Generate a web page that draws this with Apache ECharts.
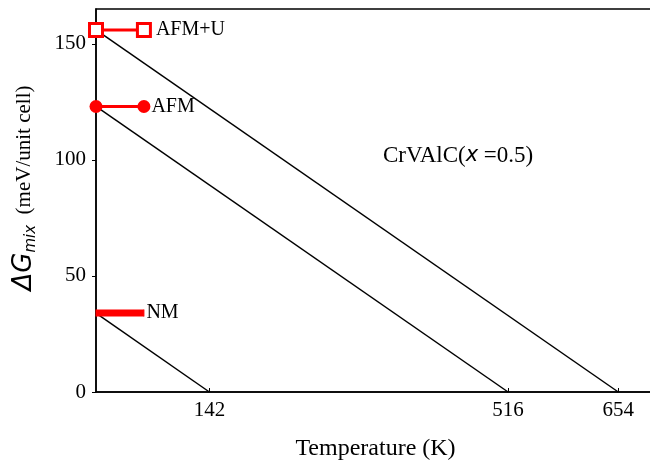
<!DOCTYPE html>
<html>
<head>
<meta charset="utf-8">
<script src="https://cdn.jsdelivr.net/npm/echarts@6/dist/echarts.min.js"></script>
<style>html,body{margin:0;padding:0;background:#fff;}#c{width:650px;height:464px;}</style>
</head>
<body>
<div id="c"></div>
<script>
// Data
var xTicks = [142, 516, 654];
var yTicks = [0, 50, 100, 150];
var afmU_T = [0, 654];       // black line AFM+U: start -> zero crossing
var afmU_G = [156, 0];
var afm_T = [0, 516];
var afm_G = [123, 0];
var nm_T = [0, 142];
var nm_G = [34, 0];
var markerT = [0, 60];       // red reference segments
var afmU_level = 156;
var afm_level = 123;
var nm_level = 34;
var seriesNames = ['AFM+U', 'AFM', 'NM'];

var serif = '"Liberation Serif", "DejaVu Serif", serif';
var sans = '"DejaVu Sans", "Liberation Sans", sans-serif';

function pts(xs, ys) { return xs.map(function (x, i) { return [x, ys[i]]; }); }
function lvl(v, name, dist) {
  return markerT.map(function (t, i) {
    var d = { value: [t, v] };
    if (i === markerT.length - 1) {
      d.label = { show: true, position: 'right', formatter: name, distance: dist,
        fontFamily: serif, fontSize: 20, color: '#000' };
    }
    return d;
  });
}

var chart = echarts.init(document.getElementById('c'));
chart.setOption({
  animation: false,
  grid: { left: 96, top: 9, width: 575, height: 383, show: true, borderColor: '#000', borderWidth: 1.5,
    backgroundColor: 'transparent', outerBoundsMode: 'none', containLabel: false },
  xAxis: {
    type: 'value', min: 0, max: 720,
    name: 'Temperature (K)', nameLocation: 'middle', nameGap: 45,
    nameTextStyle: { fontFamily: serif, fontSize: 24, color: '#000', padding: [0, 16, 0, 0] },
    axisLine: { lineStyle: { color: '#000', width: 1.5 } },
    axisTick: { show: true, inside: true, length: 4, customValues: xTicks, lineStyle: { color: '#000' } },
    axisLabel: { customValues: xTicks, fontFamily: serif, fontSize: 21, color: '#000', margin: 8 },
    splitLine: { show: false }
  },
  yAxis: {
    type: 'value', min: 0, max: 165,
    axisLine: { lineStyle: { color: '#000', width: 1.5 } },
    axisTick: { show: true, inside: false, length: 4, customValues: yTicks, lineStyle: { color: '#000' } },
    axisLabel: { customValues: yTicks, fontFamily: serif, fontSize: 21, color: '#000', margin: 10 },
    splitLine: { show: false }
  },
  series: [
    { type: 'line', data: pts(afmU_T, afmU_G), symbol: 'none', lineStyle: { color: '#000', width: 1.5 }, z: 2 },
    { type: 'line', data: pts(afm_T, afm_G), symbol: 'none', lineStyle: { color: '#000', width: 1.5 }, z: 2 },
    { type: 'line', data: pts(nm_T, nm_G), symbol: 'none', lineStyle: { color: '#000', width: 1.5 }, z: 2 },
    { name: seriesNames[0], type: 'line', data: lvl(afmU_level, seriesNames[0], 4), clip: false,
      symbol: 'rect', symbolSize: 13, lineStyle: { color: '#ff0000', width: 3 },
      itemStyle: { color: '#fff', borderColor: '#ff0000', borderWidth: 3 }, z: 5 },
    { name: seriesNames[1], type: 'line', data: lvl(afm_level, seriesNames[1], 1), clip: false,
      symbol: 'circle', symbolSize: 13, lineStyle: { color: '#ff0000', width: 3 },
      itemStyle: { color: '#ff0000' }, z: 5 },
    { name: seriesNames[2], type: 'line', data: lvl(nm_level, seriesNames[2], 2), clip: false,
      symbol: 'rect', symbolSize: [1, 7], lineStyle: { color: '#ff0000', width: 7, cap: 'butt' },
      itemStyle: { color: '#ff0000' }, z: 5 }
  ],
  graphic: [{
    type: 'text', x: 24, y: 188, rotation: Math.PI / 2,
    style: {
      text: '{d|ΔG}{s|mix}{a|  (meV/unit cell)}',
      align: 'center', verticalAlign: 'middle',
      rich: {
        d: { fontFamily: sans, fontSize: 26, fontStyle: 'italic', fill: '#000', lineHeight: 30 },
        s: { fontFamily: sans, fontSize: 15, fontStyle: 'italic', fill: '#000', lineHeight: 20, verticalAlign: 'bottom' },
        a: { fontFamily: serif, fontSize: 21, fill: '#000', lineHeight: 30 }
      }
    }
  }, {
    type: 'text', left: 383, top: 144,
    style: {
      text: '{a|CrVAlC(}{i|x}{a| =0.5)}',
      rich: {
        a: { fontFamily: serif, fontSize: 23, fill: '#000' },
        i: { fontFamily: sans, fontSize: 21, fontStyle: 'italic', fill: '#000' }
      }
    }
  }]
});
</script>
</body>
</html>
